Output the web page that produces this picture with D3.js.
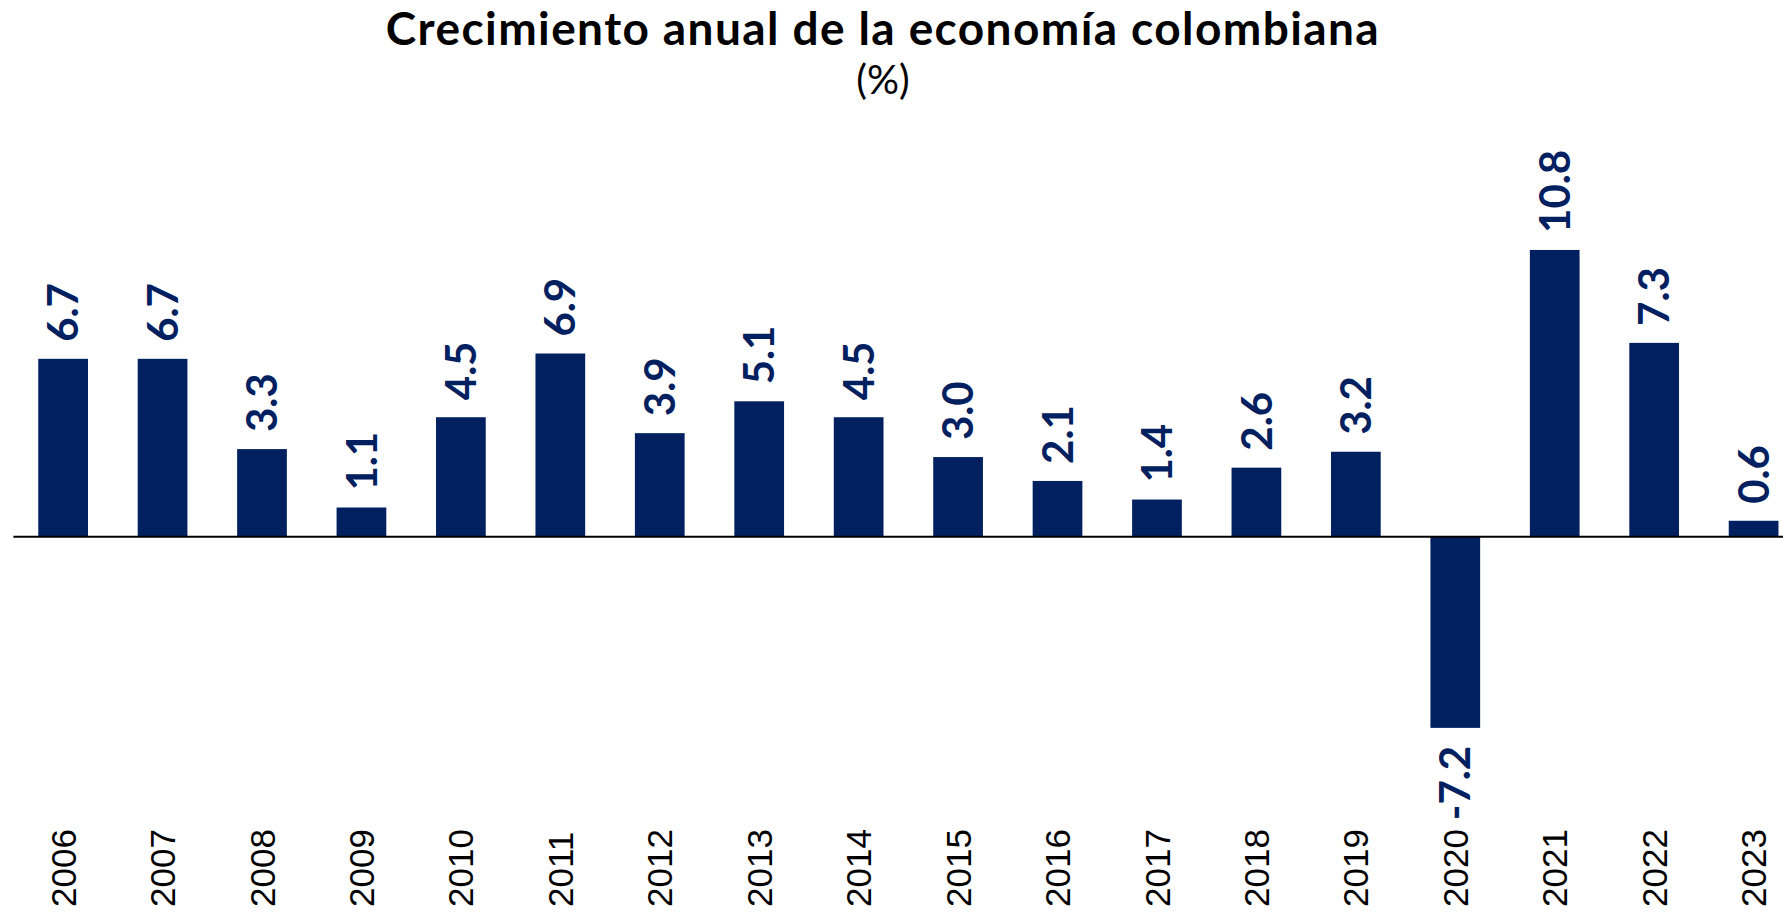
<!DOCTYPE html>
<html>
<head>
<meta charset="utf-8">
<script src="https://cdn.jsdelivr.net/npm/d3@7"></script>
<style>
  body { margin: 0; background: #fff; }
</style>
</head>
<body>
<div id="chart"></div>
<script>
// data
var years = ["2006","2007","2008","2009","2010","2011","2012","2013","2014",
             "2015","2016","2017","2018","2019","2020","2021","2022","2023"];
var growth = [6.7, 6.7, 3.3, 1.1, 4.5, 6.9, 3.9, 5.1, 4.5,
              3.0, 2.1, 1.4, 2.6, 3.2, -7.2, 10.8, 7.3, 0.6];
var yDomain = [-10, 12];

var data = years.map(function(d, i) { return {year: d, value: growth[i]}; });

var width = 1783, height = 914;
var zeroY = 536.7, pxPerUnit = 26.55;
var navy = "#002060";

var svg = d3.select("#chart")
  .append("svg")
    .attr("width", width)
    .attr("height", height);

// X scale (band, like an Excel column chart with 100% gap)
var x = d3.scaleBand()
    .domain(years)
    .range([13.4, 13.4 + 18 * 99.44])
    .paddingInner(0.5)
    .paddingOuter(0.25);

// Y scale
var y = d3.scaleLinear()
    .domain(yDomain)
    .range([zeroY - yDomain[0] * pxPerUnit, zeroY - yDomain[1] * pxPerUnit]);

// title
svg.append("text")
    .attr("x", 883)
    .attr("y", 45)
    .attr("text-anchor", "middle")
    .style("font-family", "Lato, 'Noto Sans', sans-serif")
    .style("font-weight", "bold")
    .style("font-size", "46px")
    .style("letter-spacing", "1.4px")
    .text("Crecimiento anual de la economía colombiana");

svg.append("text")
    .attr("x", 883)
    .attr("y", 94)
    .attr("text-anchor", "middle")
    .style("font-family", "Lato, 'Noto Sans', sans-serif")
    .style("font-size", "40px")
    .text("(%)");

// bars
svg.append("g")
  .selectAll("rect")
  .data(data)
  .enter()
  .append("rect")
    .attr("x", function(d) { return x(d.year); })
    .attr("width", x.bandwidth())
    .attr("y", function(d) { return y(Math.max(0, d.value)); })
    .attr("height", function(d) { return Math.abs(y(d.value) - y(0)); })
    .attr("fill", navy);

// zero line
svg.append("g")
    .attr("transform", "translate(0," + y(0) + ")")
    .call(d3.axisBottom(x).tickSize(0).tickFormat(""))
    .call(function(g) {
      g.select(".domain")
        .attr("d", "M13.4,0H" + width)
        .attr("stroke", "#000")
        .attr("stroke-width", 2);
    });

// value labels (rotated), plain hyphen for negatives like the original
svg.append("g")
  .selectAll("text")
  .data(data)
  .enter()
  .append("text")
    .attr("transform", function(d) {
      var cx = x(d.year) + x.bandwidth() / 2;
      var cy = d.value >= 0 ? y(d.value) - 17 : y(d.value) + 18;
      return "translate(" + cx + "," + cy + ") rotate(-90)";
    })
    .attr("dy", "0.36em")
    .attr("text-anchor", function(d) { return d.value >= 0 ? "start" : "end"; })
    .style("font-family", "Lato, 'Noto Sans', sans-serif")
    .style("font-weight", "bold")
    .style("font-size", "42px")
    .attr("fill", navy)
    .text(function(d) { return d.value.toFixed(1); });

// year labels (rotated)
svg.append("g")
  .selectAll("text")
  .data(years)
  .enter()
  .append("text")
    .attr("transform", function(d) {
      return "translate(" + (x(d) + x.bandwidth() / 2) + ",907) rotate(-90)";
    })
    .attr("dy", "0.36em")
    .attr("text-anchor", "start")
    .style("font-family", "'Liberation Sans', Arial, sans-serif")
    .style("font-size", "35px")
    .attr("fill", "#000")
    .text(function(d) { return d; });
</script>
</body>
</html>
